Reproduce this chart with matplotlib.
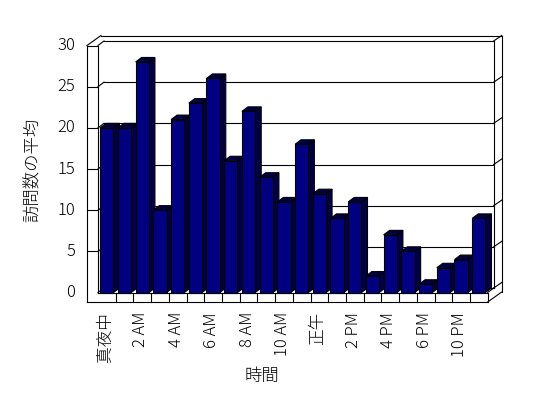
import matplotlib
matplotlib.use('Agg')
import matplotlib.pyplot as plt
from matplotlib.patches import Polygon

categories = ['真夜中', '1 AM', '2 AM', '3 AM', '4 AM', '5 AM', '6 AM', '7 AM',
              '8 AM', '9 AM', '10 AM', '11 AM', '正午', '1 PM', '2 PM', '3 PM',
              '4 PM', '5 PM', '6 PM', '8 PM', '10 PM', '11 PM']
visits = [20, 20, 28, 10, 21, 23, 26, 16, 22, 14, 11, 18,
          12, 9, 11, 2, 7, 5, 1, 3, 4, 9]
yticks = [0, 5, 10, 15, 20, 25, 30]
x_title = '時間'
y_title = '訪問数の平均'

plt.rcParams['font.family'] = ['Noto Sans CJK JP', 'DejaVu Sans']

W, H = 548, 398
fig = plt.figure(figsize=(W / 100, H / 100), dpi=100)
fig.patch.set_facecolor('white')
# front plane of the 3D plot (pixel positions, y from top)
L, R, B, T = 98, 487.7, 292.5, 45.5
ax = fig.add_axes([L / W, 1 - B / H, (R - L) / W, (B - T) / H])
n = len(visits)
ax.set_xlim(-0.5, n - 0.5)
ax.set_ylim(yticks[0], yticks[-1])
ax.set_axis_off()

sx = (R - L) / n
sy = (B - T) / (yticks[-1] - yticks[0])


def ox(px):
    return px / sx


def oy(px):
    return px / sy


# depth vectors (in data units)
WDX, WDY = ox(6), oy(4.5)     # depth of plot volume
TBX, TBY = ox(8), oy(5.5)     # back wall thickness
LT = ox(11)                   # left wall thickness
FT = oy(9.5)                  # floor thickness
BDX, BDY = ox(6), oy(4.5)     # bar depth

x0, x1 = -0.5, n - 0.5
ymax = yticks[-1]


def line(xs, ys, z=2):
    ax.plot(xs, ys, color='black', lw=0.8, clip_on=False, zorder=z,
            solid_capstyle='projecting')


# back wall gridlines and left wall diagonals
for v in yticks:
    line([x0, x0 + WDX], [v, v + WDY], z=1)
    line([x0 + WDX, x1 + WDX], [v + WDY, v + WDY], z=1)
    line([x1 + WDX, x1 + WDX + TBX], [v + WDY, v + WDY + TBY], z=1)
line([x1 + WDX, x1 + WDX], [WDY, ymax + WDY], z=1)
line([x1 + WDX + TBX, x1 + WDX + TBX], [-FT + WDY + TBY, ymax + WDY + TBY], z=1)
line([x0 - LT + WDX + TBX, x1 + WDX + TBX], [ymax + WDY + TBY] * 2, z=1)
line([x0 - LT, x0 - LT + WDX + TBX], [ymax, ymax + WDY + TBY], z=1)
line([x1, x1 + WDX], [0, WDY], z=1)
line([x1, x1 + WDX + TBX], [-FT, -FT + WDY + TBY], z=1)

# left wall front face
line([x0 - LT, x0 - LT], [-FT, ymax], z=200)
line([x0, x0], [0, ymax], z=200)
line([x0 - LT, x0], [ymax, ymax], z=200)
for v in yticks[1:-1]:
    line([x0 - LT, x0], [v, v], z=200)

# floor front face
line([x0, x1], [0, 0], z=200)
line([x0 - LT, x1], [-FT, -FT], z=200)
line([x1, x1], [-FT, 0], z=200)
for i in range(1, n):
    line([i - 0.5, i - 0.5], [-FT, 0], z=200)

# bars
bw = 0.75
front_c = '#000080'
side_c = '#000042'
bars = ax.bar(range(n), visits, width=bw, color=front_c, edgecolor='black',
              linewidth=0.8)
for i, (rect, v) in enumerate(zip(bars, visits)):
    z = 5 + 3 * i
    xl, xr = i - bw / 2, i + bw / 2
    side = Polygon([(xr, 0), (xr + BDX, BDY), (xr + BDX, v + BDY), (xr, v)],
                   closed=True, fc=side_c, ec='black', lw=0.8, zorder=z,
                   clip_on=False)
    top = Polygon([(xl, v), (xl + BDX, v + BDY), (xr + BDX, v + BDY), (xr, v)],
                  closed=True, fc=side_c, ec='black', lw=0.8, zorder=z + 1,
                  clip_on=False)
    ax.add_patch(side)
    ax.add_patch(top)
    rect.set_zorder(z + 2)
    rect.set_clip_on(False)

# tick labels
for v in yticks:
    ax.text(x0 - ox(23), v, str(v), ha='right', va='center', fontsize=12,
            fontweight='light', clip_on=False)
for i in range(0, n, 2):
    ax.text(i - ox(1.5), -oy(19.5), categories[i], rotation=90, ha='center',
            va='top', fontsize=12, fontweight='light', clip_on=False)

fig.text(262 / W, 1 - 376 / H, x_title, ha='center', va='center', fontsize=12.5,
         fontweight='light')
fig.text(33 / W, 1 - 170 / H, y_title, ha='center', va='center', fontsize=12.5,
         fontweight='light', rotation=90)

fig.savefig('out.png', dpi=100, facecolor='white')
